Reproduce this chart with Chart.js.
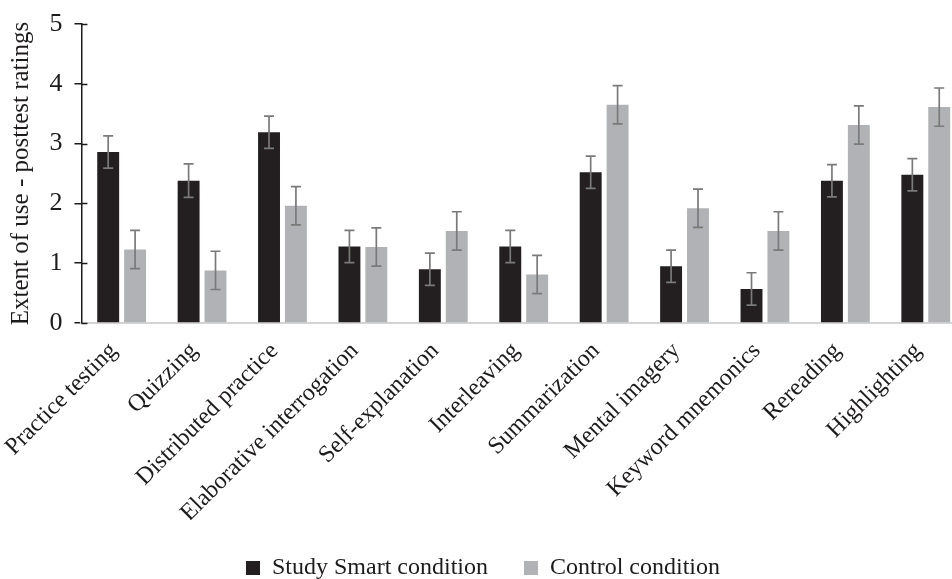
<!DOCTYPE html>
<html>
<head>
<meta charset="utf-8">
<script src="https://cdn.jsdelivr.net/npm/chart.js@4.4.1/dist/chart.umd.min.js"></script>
<style>
  html, body { margin: 0; padding: 0; background: #ffffff; overflow: hidden; }
  #wrap { position: relative; width: 966px; height: 579px; }
</style>
</head>
<body>
<div id="wrap"><canvas id="chart"></canvas></div>
<script>
// Learning strategies rated at posttest
const strategies = [
  'Practice testing', 'Quizzing', 'Distributed practice', 'Elaborative interrogation',
  'Self-explanation', 'Interleaving', 'Summarization', 'Mental imagery',
  'Keyword mnemonics', 'Rereading', 'Highlighting'
];

// Mean extent-of-use ratings per condition
const studySmartMeans = [2.86, 2.38, 3.19, 1.28, 0.90, 1.28, 2.52, 0.95, 0.57, 2.38, 2.48];
const controlMeans    = [1.23, 0.88, 1.96, 1.27, 1.54, 0.81, 3.65, 1.92, 1.54, 3.31, 3.61];

// Error bar half-widths per condition
const studySmartErrors = [0.27, 0.28, 0.27, 0.27, 0.27, 0.27, 0.27, 0.27, 0.27, 0.27, 0.27];
const controlErrors    = [0.32, 0.32, 0.32, 0.32, 0.32, 0.32, 0.32, 0.32, 0.32, 0.32, 0.32];

// Y axis tick values
const yTicks = [0, 1, 2, 3, 4, 5];

const serif = "'Liberation Serif', 'Times New Roman', serif";
const ink = '#1e1b1c';

// Draws the error bars over each bar, using the value scale
const errorBars = {
  id: 'errorBars',
  afterDatasetsDraw(chart) {
    const ctx = chart.ctx;
    const yScale = chart.scales.y;
    ctx.save();
    ctx.strokeStyle = '#7a7a7a';
    ctx.lineWidth = 1.7;
    chart.data.datasets.forEach((ds, di) => {
      const meta = chart.getDatasetMeta(di);
      meta.data.forEach((bar, i) => {
        const v = ds.data[i];
        const e = ds.errors[i];
        const yTop = yScale.getPixelForValue(v + e);
        const yBot = yScale.getPixelForValue(v - e);
        const x = bar.x;
        const cap = 5;
        ctx.beginPath();
        ctx.moveTo(x, yTop); ctx.lineTo(x, yBot);
        ctx.moveTo(x - cap, yTop); ctx.lineTo(x + cap, yTop);
        ctx.moveTo(x - cap, yBot); ctx.lineTo(x + cap, yBot);
        ctx.stroke();
      });
    });
    ctx.restore();
  }
};

// Short inner stubs so the y-axis tick marks cross the axis line
const crossTicks = {
  id: 'crossTicks',
  afterDraw(chart) {
    const ctx = chart.ctx;
    const yScale = chart.scales.y;
    const x0 = chart.chartArea.left;
    ctx.save();
    ctx.strokeStyle = ink;
    ctx.lineWidth = 1.5;
    yTicks.forEach(t => {
      const y = Math.round(yScale.getPixelForValue(t)) + 0.5;
      ctx.beginPath();
      ctx.moveTo(x0, y); ctx.lineTo(x0 + 6, y);
      ctx.stroke();
    });
    ctx.restore();
  }
};

new Chart(document.getElementById('chart'), {
  type: 'bar',
  data: {
    labels: strategies,
    datasets: [
      {
        label: 'Study Smart condition',
        data: studySmartMeans,
        errors: studySmartErrors,
        backgroundColor: '#231f20',
        borderWidth: 0,
        categoryPercentage: 0.669,
        barPercentage: 0.815
      },
      {
        label: 'Control condition',
        data: controlMeans,
        errors: controlErrors,
        backgroundColor: '#b1b2b5',
        borderWidth: 0,
        categoryPercentage: 0.669,
        barPercentage: 0.815
      }
    ]
  },
  options: {
    responsive: true,
    maintainAspectRatio: false,
    animation: false,
    layout: { padding: { left: 0, right: 0, top: 24, bottom: -11 } },
    plugins: {
      legend: {
        position: 'bottom',
        labels: {
          color: ink,
          font: { family: serif, size: 24 },
          boxWidth: 14,
          boxHeight: 14,
          padding: 36
        }
      },
      tooltip: { enabled: false }
    },
    scales: {
      x: {
        grid: { display: true, drawOnChartArea: false, drawTicks: false },
        border: { display: true, color: '#d4d4d4', width: 2 },
        ticks: {
          color: ink,
          font: { family: serif, size: 24 },
          minRotation: 45,
          maxRotation: 45,
          padding: 14,
          labelOffset: -8,
          autoSkip: false
        },
        afterFit(scale) { scale.height = 197; }
      },
      y: {
        min: 0,
        max: 5,
        afterBuildTicks(scale) { scale.ticks = yTicks.map(v => ({ value: v })); },
        grid: { drawOnChartArea: false, drawTicks: true, tickLength: 7, color: ink, lineWidth: 1.5 },
        border: { display: true, color: ink, width: 1.5 },
        ticks: {
          color: ink,
          font: { family: serif, size: 26 },
          padding: 12
        },
        title: {
          display: true,
          text: 'Extent of use - posttest ratings',
          color: ink,
          font: { family: serif, size: 25 },
          padding: { top: 2, bottom: 0 }
        },
        afterFit(scale) {
          scale.width = 77;
          scale.paddingTop = 0;
          scale.paddingBottom = 0;
        }
      }
    }
  },
  plugins: [errorBars, crossTicks]
});
</script>
</body>
</html>
